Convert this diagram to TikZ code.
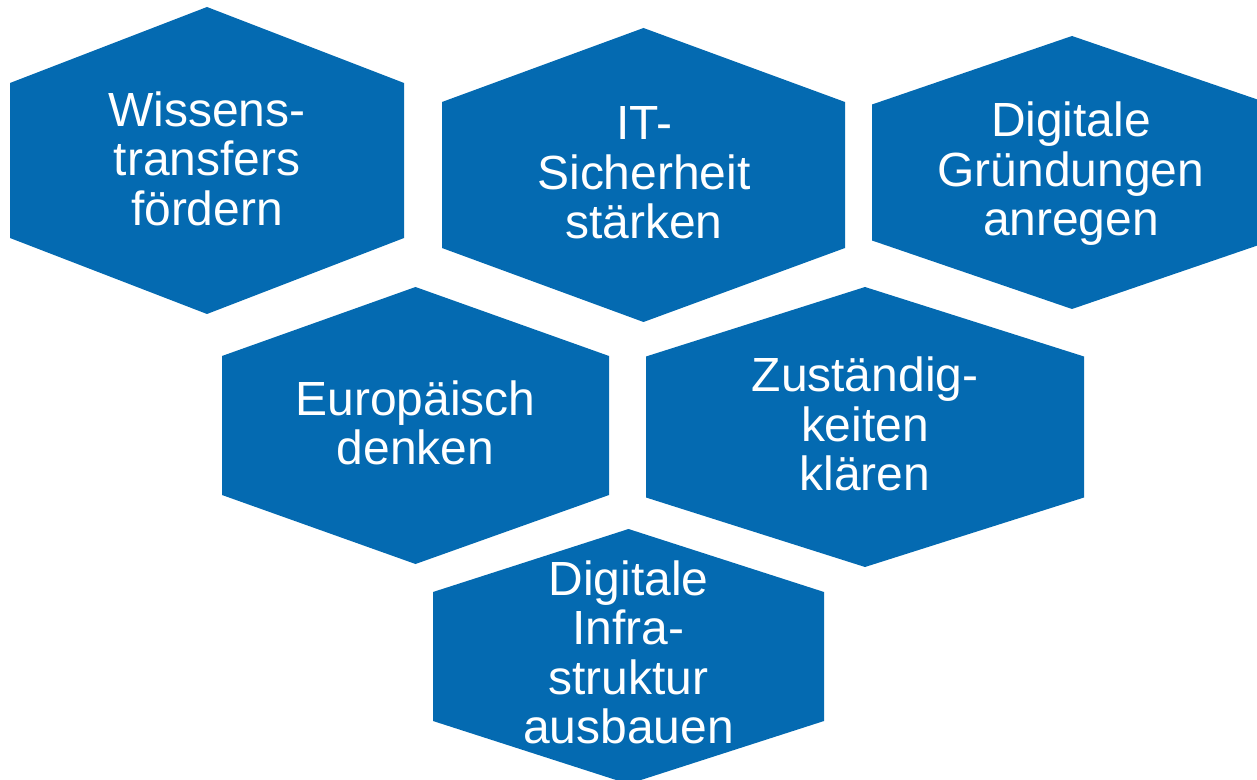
\documentclass[tikz,border=0pt]{standalone}
\usepackage{fontspec}
\setmainfont{Liberation Sans}
\usepackage{tikz}

\definecolor{hexblue}{RGB}{4,106,177}
\newcommand{\hexfill}[5]{%
	\fill[hexblue] (#1,{#2-#4}) -- ({#1+#3},{#2-#5}) -- ({#1+#3},{#2+#5}) -- (#1,{#2+#4}) -- ({#1-#3},{#2+#5}) -- ({#1-#3},{#2-#5}) -- cycle;}
\tikzset{hexlabel/.style={text=white,align=center,inner sep=0pt,font=\fontsize{27.3pt}{28.2pt}\selectfont}}

\begin{document}
\begin{tikzpicture}[x=0.02cm,y=-0.02cm]
	\useasboundingbox (0,0) rectangle (1257,780);
	\clip (0,0) rectangle (1257,780);

	\hexfill{207}{160.5}{197}{153.5}{77.5}
	\hexfill{643.5}{175}{201.5}{147}{73}
	\hexfill{1072}{172.5}{200}{136.5}{68}
	\hexfill{415.5}{425.5}{193.5}{138.5}{69.5}
	\hexfill{865}{427}{219}{140}{70.5}
	\hexfill{628.5}{656.5}{195.5}{127.5}{64.5}

	\node[hexlabel] (wissen)   at (207, 158.5)   {Wissens-\\transfers\\fördern};
	\node[hexlabel] (itsich)   at (644, 173)     {IT-\\Sicherheit\\stärken};
	\node[hexlabel] (gruend)   at (1071, 174)    {Digitale\\Gründungen\\anregen};
	\node[hexlabel] (europa)   at (415.5, 423)   {Europäisch\\denken};
	\node[hexlabel] (zustaend) at (865, 424)     {Zuständig-\\keiten\\klären};
	\node[hexlabel] (infra)    at (628.5, 652.5) {Digitale\\Infra-\\struktur\\ausbauen};
\end{tikzpicture}
\end{document}
